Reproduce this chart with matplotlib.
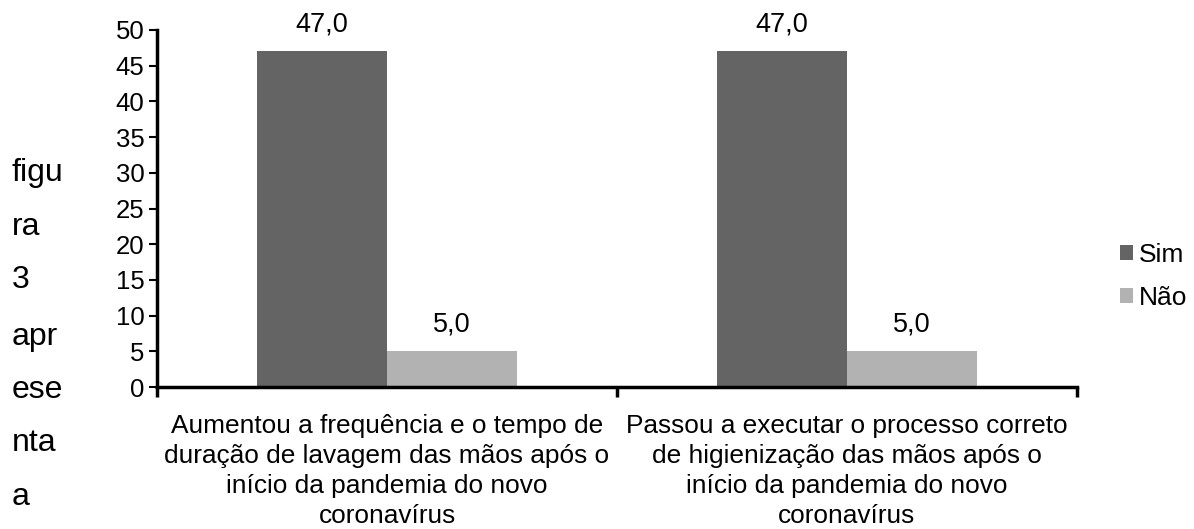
import numpy as np
import matplotlib
matplotlib.use("Agg")
import matplotlib.pyplot as plt

plt.rcParams["font.family"] = ["Liberation Sans", "DejaVu Sans"]

# ── Data ──────────────────────────────────────────────────────────────────────
CATEGORIES = [
    "Aumentou a frequência e o tempo de\nduração de lavagem das mãos após o\ninício da pandemia do novo\ncoronavírus",
    "Passou a executar o processo correto\nde higienização das mãos após o\ninício da pandemia do novo\ncoronavírus",
]
SIM = [47.0, 47.0]
NAO = [5.0, 5.0]
SERIES_NAMES = ["Sim", "Não"]
COLORS = ["#646464", "#b2b2b2"]
SIDE_WORDS = ["figu", "ra", "3", "apr", "ese", "nta", "a"]

# ── Figure ────────────────────────────────────────────────────────────────────
fig = plt.figure(figsize=(11.94, 5.29), dpi=100)
ax = fig.add_axes([0.1315, 0.2684, 0.902 - 0.1315, 0.9433 - 0.2684])

x = np.arange(len(CATEGORIES))
w = 0.283
b1 = ax.bar(x - w / 2, SIM, w, color=COLORS[0], label=SERIES_NAMES[0])
b2 = ax.bar(x + w / 2, NAO, w, color=COLORS[1], label=SERIES_NAMES[1])

for bars in (b1, b2):
    for r in bars:
        v = r.get_height()
        ax.annotate(f"{v:.1f}".replace(".", ","),
                    (r.get_x() + r.get_width() / 2, v),
                    xytext=(0, 10), textcoords="offset points",
                    ha="center", va="bottom", fontsize=19.5)

ax.set_xlim(-0.5, len(CATEGORIES) - 0.5)
ax.set_ylim(0, 50)
ax.set_yticks(range(0, 51, 5))
ax.tick_params(axis="y", labelsize=18.5, length=6, width=1.5, direction="out", pad=3)

# category labels between boundary ticks
ax.set_xticks(np.arange(-0.5, len(CATEGORIES)))
ax.set_xticklabels([])
ax.tick_params(axis="x", length=7, width=2.5, direction="out")
for xi, lab in zip(x, CATEGORIES):
    ax.text(xi, -0.075, lab, transform=ax.get_xaxis_transform(),
            ha="center", va="top", fontsize=18.9, linespacing=1.32)

for s in ("top", "right"):
    ax.spines[s].set_visible(False)
for s in ("left", "bottom"):
    ax.spines[s].set_linewidth(2.5)

ax.legend(loc="center left", bbox_to_anchor=(1.047, 0.31), frameon=False,
          fontsize=19, handlelength=0.5, handleheight=0.5,
          handletextpad=0.2, labelspacing=0.7, borderpad=0, borderaxespad=0)

# stray words in the left margin
ys = 1 - np.array([173, 227, 280, 337, 390, 443, 497]) / 529
for word, yy in zip(SIDE_WORDS, ys):
    fig.text(12 / 1194, yy, word, ha="left", va="center", fontsize=23)

fig.savefig("out.png", dpi=100)
